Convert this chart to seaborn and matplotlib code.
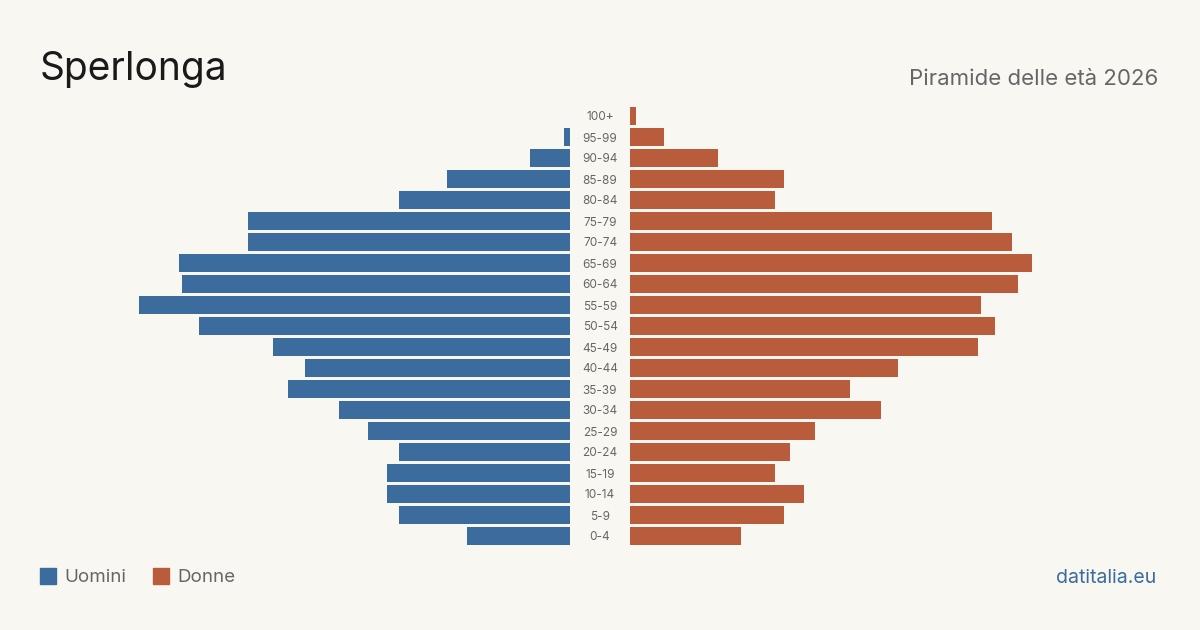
import pandas as pd
import matplotlib.pyplot as plt
import seaborn as sns

# age classes, top to bottom as drawn
eta = ["100+", "95-99", "90-94", "85-89", "80-84", "75-79", "70-74", "65-69",
       "60-64", "55-59", "50-54", "45-49", "40-44", "35-39", "30-34", "25-29",
       "20-24", "15-19", "10-14", "5-9", "0-4"]
uomini = [0, 2, 14, 43, 60, 113, 113, 137, 136, 151, 130, 104, 93, 99, 81, 71,
          60, 64, 64, 60, 36]
donne = [2, 12, 31, 54, 51, 127, 134, 141, 136, 123, 128, 122, 94, 77, 88, 65,
         56, 51, 61, 54, 39]

BG = "#f9f7f2"
BLUE = "#3b6c9d"
ORANGE = "#b95c3c"
GREY = "#666666"

sns.set_theme(style="white")
plt.rcParams["font.family"] = ["Inter", "DejaVu Sans"]

df = pd.DataFrame({"eta": eta, "uomini": uomini, "donne": donne})

fig = plt.figure(figsize=(12, 6.3), dpi=100)
fig.patch.set_facecolor(BG)

W, H = 1200, 630
axw = 450
top, bottom = 105.5, 546.5
xmax = 157.8
ax_l = fig.add_axes([(570 - axw) / W, 1 - bottom / H, axw / W, (bottom - top) / H])
ax_r = fig.add_axes([630 / W, 1 - bottom / H, axw / W, (bottom - top) / H])

sns.barplot(data=df, y="eta", x="uomini", ax=ax_l, color=BLUE, width=0.81,
            saturation=1, orient="h", linewidth=0)
sns.barplot(data=df, y="eta", x="donne", ax=ax_r, color=ORANGE, width=0.81,
            saturation=1, orient="h", linewidth=0)

for ax in (ax_l, ax_r):
    ax.set_facecolor(BG)
    ax.set_xlabel("")
    ax.set_ylabel("")
    ax.set_xticks([])
    ax.set_yticks([])
    ax.set_ylim(len(eta) - 0.5, -0.5)
    for s in ax.spines.values():
        s.set_visible(False)
ax_l.set_xlim(xmax, 0)
ax_r.set_xlim(0, xmax)

# age labels in the gap between the two halves
for i, lab in enumerate(eta):
    y = 1 - (top + 1.5 + (i + 0.5) * (bottom - top) / len(eta)) / H
    fig.text(600 / W, y, lab, ha="center", va="center", fontsize=8.5, color=GREY)

fig.text(40 / W, 1 - 70 / H, "Sperlonga", fontsize=28, color="#1a1a1a",
         ha="left", va="center")
fig.text(1158 / W, 1 - 79 / H, "Piramide delle età 2026", fontsize=16,
         color=GREY, ha="right", va="center")

# legend
for x0, col, lab in [(40, BLUE, "Uomini"), (153, ORANGE, "Donne")]:
    fig.patches.append(plt.Rectangle((x0 / W, 1 - 584 / H), 16 / W, 16 / H,
                                     transform=fig.transFigure, color=col))
    fig.text((x0 + 24) / W, 1 - 578 / H, lab, fontsize=13.5, color=GREY,
             ha="left", va="center")

fig.text(1156 / W, 1 - 578 / H, "datitalia.eu", fontsize=14, color=BLUE,
         ha="right", va="center")

fig.savefig("out.png", dpi=100, facecolor=BG)
